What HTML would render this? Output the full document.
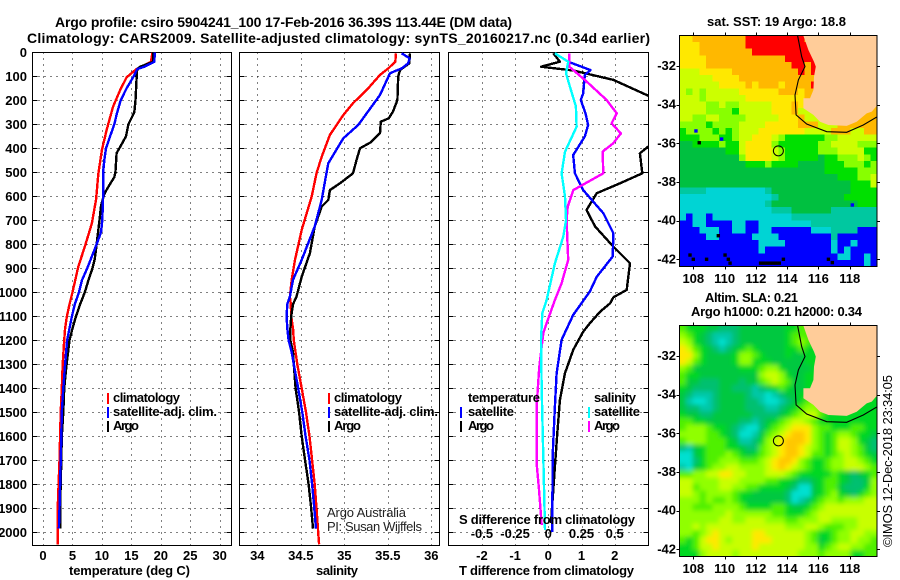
<!DOCTYPE html>
<html>
<head>
<meta charset="utf-8">
<title>Argo profile</title>
<style>
html,body{margin:0;padding:0;background:#fff;}
svg{display:block;}
text{font-family:"Liberation Sans",sans-serif;fill:#000;}
.b{font-weight:bold;font-size:13px;}
.t{font-weight:bold;font-size:14px;}
.n{font-weight:normal;font-size:13px;fill:#222;}
</style>
</head>
<body>
<svg id="chart" xmlns="http://www.w3.org/2000/svg" width="900" height="580" viewBox="0 0 900 580">
<defs>
<clipPath id="clip-p1"><rect x="32.5" y="52.5" width="199" height="493"/></clipPath>
<clipPath id="clip-p2"><rect x="239.5" y="52.5" width="200" height="493"/></clipPath>
<clipPath id="clip-p3"><rect x="448.5" y="52.5" width="200" height="493"/></clipPath>
<clipPath id="clip-m1"><rect x="679.5" y="35.5" width="197.5" height="231"/></clipPath>
<clipPath id="clip-m2"><rect x="679.5" y="325.5" width="197.5" height="231"/></clipPath>
<filter id="soft" x="-10%" y="-10%" width="120%" height="120%"><feGaussianBlur stdDeviation="2.4"/></filter>
</defs>
<text class="t" x="55" y="27" textLength="457">Argo profile: csiro 5904241_100 17-Feb-2016 36.39S 113.44E (DM data)</text>
<text class="t" x="27" y="43" textLength="623">Climatology: CARS2009. Satellite-adjusted climatology: synTS_20160217.nc (0.34d earlier)</text>
<g id="layer-panels"></g>
<g id="layer-maps"></g>

<text class="b" x="69" y="575" textLength="121">temperature (deg C)</text>
<text class="b" x="316" y="575" textLength="42">salinity</text>
<text class="b" x="459" y="575" textLength="175">T difference from climatology</text>

<g>
<rect x="107" y="393" width="2" height="11" fill="#f00"/>
<text class="b" x="113" y="402" textLength="67">climatology</text>
<rect x="107" y="407" width="2" height="11" fill="#00f"/>
<text class="b" x="113" y="416" textLength="104">satellite-adj. clim.</text>
<rect x="107" y="421" width="2" height="11" fill="#000"/>
<text class="b" x="113" y="430" textLength="26">Argo</text>
</g>
<g>
<rect x="328" y="393" width="2" height="11" fill="#f00"/>
<text class="b" x="334" y="402" textLength="68">climatology</text>
<rect x="328" y="407" width="2" height="11" fill="#00f"/>
<text class="b" x="334" y="416" textLength="104">satellite-adj. clim.</text>
<rect x="328" y="421" width="2" height="11" fill="#000"/>
<text class="b" x="334" y="430" textLength="27">Argo</text>
</g>
<text class="n" x="327" y="517" textLength="79">Argo Australia</text>
<text class="n" x="327" y="531" textLength="95">PI: Susan Wijffels</text>

<g>
<text class="b" x="468" y="402" textLength="72">temperature</text>
<rect x="460" y="407" width="2" height="11" fill="#00f"/>
<text class="b" x="468" y="416" textLength="46">satellite</text>
<rect x="460" y="421" width="2" height="11" fill="#000"/>
<text class="b" x="468" y="430" textLength="26">Argo</text>
<text class="b" x="594" y="402" textLength="42">salinity</text>
<rect x="588" y="407" width="2" height="11" fill="#00ffff"/>
<text class="b" x="594" y="416" textLength="46">satellite</text>
<rect x="588" y="421" width="2" height="11" fill="#ff00ff"/>
<text class="b" x="594" y="430" textLength="26">Argo</text>
</g>
<text class="b" x="459" y="524" textLength="176">S difference from climatology</text>

<text class="b" x="707" y="26" textLength="139">sat. SST: 19 Argo: 18.8</text>
<text class="b" x="705" y="302" textLength="93">Altim. SLA: 0.21</text>
<text class="b" x="691" y="316" textLength="171">Argo h1000: 0.21 h2000: 0.34</text>
<text class="n" transform="translate(892,547) rotate(-90)" textLength="172" style="fill:#000">©IMOS 12-Dec-2018 23:34:05</text>
</svg>

<script>
// ---- axis ticks ----
const depthTicks = [0,100,200,300,400,500,600,700,800,900,1000,1100,1200,1300,1400,1500,1600,1700,1800,1900,2000];
const tempTicks = [0,5,10,15,20,25,30];
const salTicks = [34,34.5,35,35.5,36];
const salTickLabels = ['34','34.5','35','35.5','36'];
const diffTicks = [-2,-1,0,1,2];
const sDiffTicks = [-0.5,-0.25,0,0.25,0.5];
const sDiffTickLabels = ['-0.5','-0.25','0','0.25','0.5'];
const lonTicks = [108,110,112,114,116,118];
const latTicks = [-32,-34,-36,-38,-40,-42];

// ---- temperature profiles ----
const tempClimDepth = [0,40,69,104,157,226,324,407,504,615,712,810,893,1000,1050,1100,1150,1200,1300,1400,1500,1600,1700,1800,1900,2000,2050];
const tempClimValues = [18.6,18.3,15.9,14.2,13.1,11.9,10.8,10,9.4,9,8.3,7.1,6,5,4.5,4.05,3.75,3.6,3.35,3.2,3,2.9,2.8,2.65,2.5,2.5,2.5];
const tempSatDepth = [0,40,60,70,100,150,200,250,300,350,400,450,500,600,700,750,800,850,900,950,1000,1050,1100,1150,1200,1300,1400,1500,1600,1700,1800,1900,1985];
const tempSatValues = [19,18.9,17.2,16,15.4,14.2,13.2,12.6,12.1,11.4,10.7,10.4,10.2,10.2,10.07,9.85,9.1,8.3,7.5,6.6,6.1,5.4,4.9,4.5,4.1,3.75,3.45,3.2,3.1,3,2.9,2.8,2.7];
const tempArgoDepth = [0,40,50,60,70,100,200,250,300,350,390,420,500,520,560,590,640,700,800,860,900,950,1000,1050,1100,1150,1200,1300,1400,1500,1600,1700,1800,1900,1985];
const tempArgoValues = [18.7,18.7,17.6,16.5,16,15.9,15.7,15.5,14.5,14.1,13.2,12.5,12.3,12.1,11.1,10.4,9.85,9.6,9.1,8.8,8.4,7.7,7.1,6.3,5.6,5,4.5,4,3.6,3.45,3.2,3.1,3,2.9,2.9];

// ---- salinity profiles ----
const salClimDepth = [4,39,67,94,157,212,261,344,435,504,601,740,865,948,1018,1050,1100,1150,1200,1300,1400,1500,1600,1700,1800,1900,2000,2050];
const salClimValues = [35.594,35.586,35.506,35.41,35.257,35.1,34.99,34.835,34.74,34.68,34.625,34.51,34.433,34.395,34.375,34.385,34.39,34.41,34.42,34.46,34.51,34.56,34.6,34.63,34.66,34.68,34.7,34.71];
const salSatDepth = [4,25,46,67,87,178,303,358,462,532,615,726,865,948,1018,1050,1100,1150,1200,1250,1300,1400,1500,1600,1700,1800,1900,1985];
const salSatValues = [35.66,35.75,35.735,35.66,35.525,35.41,35.16,34.99,34.816,34.78,34.74,34.66,34.51,34.41,34.375,34.345,34.337,34.345,34.36,34.395,34.42,34.47,34.517,34.555,34.6,34.63,34.655,34.675];
const salArgoDepth = [4,46,74,101,199,247,275,289,337,376,400,449,504,546,574,615,643,726,837,935,1018,1050,1100,1150,1200,1250,1300,1400,1500,1600,1700,1800,1900,1985];
const salArgoValues = [35.755,35.747,35.64,35.62,35.61,35.56,35.51,35.42,35.41,35.3,35.18,35.14,35.1,34.95,34.835,34.816,34.74,34.66,34.605,34.51,34.45,34.41,34.39,34.38,34.38,34.41,34.42,34.44,34.48,34.51,34.55,34.59,34.62,34.64];

// ---- differences from climatology ----
const dtArgoDepth = [4,39,60,76,115,181,250,300,350,393,421,504,546,587,657,726,810,879,990,1021,1046,1081,1129,1164,1240,1338,1449,1587,1726,1962];
const dtArgoValues = [0.15,0.35,-0.22,0.75,1.96,3.01,3.9,3.8,3.5,3.01,2.76,2.83,2.16,1.46,1.15,1.41,1.96,2.46,2.36,1.96,1.86,1.56,1.25,1.05,0.75,0.5,0.35,0.27,0.2,0.08];
const dtSatDepth = [4,39,74,94,171,199,254,303,351,428,504,574,671,754,851,935,997,1094,1198,1338,1476,1685,1999];
const dtSatValues = [0.2,0.6,1.27,1.1,1.05,0.98,1.12,1.2,1.1,0.75,0.8,1.05,1.66,1.96,1.94,1.46,1.25,0.75,0.4,0.25,0.2,0.13,0.12];
const dsSatDepth = [4,39,87,143,226,310,414,504,601,699,768,879,1032,1087,1198,1407,1685,1990];
const dsSatValues = [0.05,0.15,0.133,0.163,0.208,0.213,0.126,0.1,0.126,0.133,0.113,0.05,-0.013,-0.045,-0.055,-0.05,-0.038,-0.025];
const dsArgoDepth = [4,60,122,199,254,296,338,379,414,504,574,643,699,865,962,1032,1129,1171,1310,1476,1712,1822,1969];
const dsArgoValues = [0.158,0.158,0.289,0.44,0.515,0.477,0.547,0.489,0.409,0.414,0.188,0.146,0.138,0.15,0.1,0.05,-0.013,-0.038,-0.068,-0.088,-0.088,-0.07,-0.05];

// ---- float position ----
const argoLon = [113.44];
const argoLat = [-36.39];

// ---- coast and shelf contour (degrees) ----
const landLon = [115.04,115.36,115.72,115.83,115.72,115.68,115.46,115.04,115.04,115.68,116.10,116.64,117.81,118.45,119.09,119.41,119.77,119.77];
const landLat = [-30.43,-31.17,-31.78,-32.03,-32.55,-33.24,-33.67,-33.67,-34.19,-34.53,-34.88,-35.05,-35.10,-34.88,-34.45,-34.36,-34.02,-30.43];
const contourLon = [114.67,114.93,115.14,114.72,114.50,114.57,115.25,116.53,117.81,118.87,119.77];
const contourLat = [-30.43,-31.52,-32.03,-32.72,-33.50,-34.53,-35.0,-35.40,-35.43,-35.05,-34.62];

// ---- SST classes, one string per row, north to south ----
const sstGrid = [
"YYOOOOOOOORRRRRRRRROOOOOOOOOOO",
"YYYOOOOOOORRRRRRRRRROOOOOOOOOO",
"YYYOOOOOOOORRRRRRRRROOOOOOOOOO",
"YYYYOOOOOOOOOOOORRRRROOOOOOOOO",
"YYYYOOOOOOOOOOOOORRORRROOOOOOO",
"LLLYYYYYOOOOOOOOOOROROOOOOOOOO",
"LLLLLYYYYOOOOOOOOOOOOOOOOOOOOO",
"LLLLLLYYYYOYOOOYOOOORROOOOOOOO",
"LGLGLLLLLYYYYYYOOOYOOOOOOOOOOO",
"LLLGLLLLLLYYYYYYYYYOOOOOOOOOOO",
"LLLLGGLGGLLLLLYYYOYLLOOOOOOOOO",
"LLLLGGGGgLLLLLYYYOLLLOOOOOOOOO",
"LLGGLLGGGGLLLLLYYYOLLLYYOOOOOO",
"GGGGgGGGGLLLLYYYYYOOOLLLOOOOOO",
"gGGGGgGgGLLLYYYYYYYLLLLOOOLLOO",
"gggGGGggGLLYYYLGggggggGGLLLLLL",
"DDggggGggLYYYYGggggggGGLLLLGGG",
"DDDDDDDggLYYYYLGgggggGGGLLLLgg",
"DDDDDDDDDGYYYYLGgggggDggGGGLGg",
"DDDDDDDDDDgggGggggDDDDgggGGGgG",
"DDDDDDDDDDDDDDDDDDDDDDgggggGGG",
"DDDDDDDDDDDDDDDDDDDDDDDDgggGGL",
"DDDDDDDDDDDDDDDDDDDDDDDDDDgggL",
"TTTTCCCCCCCCCTDDDDDDDDDDDDgggg",
"CCCCCCCCCCCCCCTDDDDDDDDDDggggg",
"CCCCCCCCCCCCCTDDDDDDDDDDDDDggg",
"CCCCCCCCCCCCCCTTTDDDDDDTTTTTTT",
"CBCCBCCCCCCCCCCCCTTTTTTTTTTTTT",
"BBCCBBBBCCBBCCCCCCCCTTTTTTTTTT",
"BBBCCCBBCCBBCCBBBBBBCCCTTTTBBB",
"BBBBCCBBBBBCCCCBBBBBBBBTBBBBBB",
"BBBBBBBBBBBBCCCCBBBBBBBCBBCBBB",
"BBBBBBBBBBBBCBBBBBBBBBBCBCBBBB",
"BBBBBBBBBBBBBBBBBBBBBBBBCCBBCB",
"BBBBBBBBBBBBBBBBBBBBBBBBBBBBCB"
];
const spotLon = [108.17,109.81,118.17,108.38,107.79,108,108.85,110.03,110.24,110.35,109.6,113.76,116.64,116.89,112.3,112.5,112.7,112.9,113.1,113.3,113.5];
const spotLat = [-35.36,-35.78,-39.19,-35.97,-41.78,-42,-42,-41.78,-42,-42.2,-40.78,-42,-42,-42.17,-42.2,-42.2,-42.2,-42.2,-42.2,-42.2,-42.2];
const spotClass = ['B','B','B','k','k','k','k','k','k','k','k','k','k','k','k','k','k','k','k','k','k'];

// ---- altimetry SLA levels (0 low to 9 high), one string per row ----
const slaGrid = [
"544433222333333344554444444444",
"654321112333333345554444444444",
"764321012333333345654444444444",
"875432123454333344544444444444",
"886433334665433343344444444444",
"875433334664443333344444444444",
"653333333444566433334444444444",
"544333333333677643344444444444",
"533222333233567653344444444444",
"432222332221234543344444444444",
"321112333321101233445444444444",
"310012333322100123456544444444",
"322112333322211234566544444444",
"433223333332222345677544444444",
"554433333221234567765444444444",
"566654432100245678886554445544",
"666655432001356789986545665443",
"566655543112467899986545776432",
"213455544322567899876545776532",
"003455565434567899875545676543",
"002455666555678998654456677654",
"103456677666678987654456677765",
"556677887766677765444445432345",
"776666777666655443223455432236",
"775666776655444432003455322246",
"776566665443333320003456432456",
"666565565433333320124566566677",
"665556666544445543345677777777",
"666666676666665544456777777777",
"666666776677766655666776666777",
"667677777777777766677655566777",
"665678777778877777765445667766",
"545788767778887777765345667665",
"445778777778777777766456776655",
"444677776777777777666566664455"
];

// ---- rendering ----
const NS = 'http://www.w3.org/2000/svg';
const panelsLayer = document.getElementById('layer-panels');
const mapsLayer = document.getElementById('layer-maps');

function make(tag, parent, props) {
  const el = document.createElementNS(NS, tag);
  for (const k in props) el.setAttribute(k, props[k]);
  parent.appendChild(el);
  return el;
}
const depthY = d => 52.3 + 0.24 * d;
const tempX = v => 43 + 5.89 * v;
const salX = v => 257.3 + 87 * (v - 34);
const diffX = v => 548.3 + 33.2 * v;
const sDiffX = v => 548.3 + 132.8 * v;
const lonX = v => 693.3 + 15.64 * (v - 108);
const latY = (v, top) => top + 30.5 + 19.33 * (-32 - v);

const panels = [
  {key:'temperature', x0:32.5, x1:231.5, ticks:tempTicks, labels:tempTicks.map(String), fx:tempX, clip:'clip-p1', depthLabels:true},
  {key:'salinity', x0:239.5, x1:439.5, ticks:salTicks, labels:salTickLabels, fx:salX, clip:'clip-p2', depthLabels:false},
  {key:'difference', x0:448.5, x1:648.5, ticks:diffTicks, labels:diffTicks.map(String), fx:diffX, clip:'clip-p3', depthLabels:false}
];
const top0 = 52.5, bot0 = 545.5;

panels.forEach(p => {
  p.ticks.forEach((t, i) => {
    const gx = Math.round(p.fx(t)) + 0.5;
    const line = make('line', panelsLayer, {x1:gx, x2:gx, y1:top0, y2:bot0, stroke:'#000', 'stroke-width':1, 'stroke-dasharray':'1 5', 'shape-rendering':'crispEdges'});
    
    
    const lab = make('text', panelsLayer, {x:p.fx(t), y:560, 'text-anchor':'middle', class:'b'});
    lab.textContent = p.labels[i];
    
    
  });
  depthTicks.forEach(d => {
    const gy = Math.round(depthY(d)) + 0.5;
    if (d > 0) {
      const line = make('line', panelsLayer, {x1:p.x0, x2:p.x1, y1:gy, y2:gy, stroke:'#000', 'stroke-width':1, 'stroke-dasharray':'1 5', 'shape-rendering':'crispEdges'});
      
      
      const tick = make('path', panelsLayer, {d:'M'+p.x0+' '+gy+'h5M'+p.x1+' '+gy+'h-5', stroke:'#000', fill:'none', 'shape-rendering':'crispEdges'});
      
      
    }
    if (p.depthLabels) {
      const lab = make('text', panelsLayer, {x:27, y:depthY(d) + 4.5, 'text-anchor':'end', class:'b'});
      lab.textContent = String(d);
      
      
    }
  });
  const frame = make('rect', panelsLayer, {x:p.x0, y:top0, width:p.x1 - p.x0, height:bot0 - top0, fill:'none', stroke:'#000', 'stroke-width':1.2, 'shape-rendering':'crispEdges'});
  
  
});

sDiffTicks.forEach((t, i) => {
  const lab = make('text', panelsLayer, {x:sDiffX(t), y:538, 'text-anchor':'middle', class:'b'});
  lab.textContent = sDiffTickLabels[i];
  
  
});

function series(name, depths, values, fx, color, clip) {
  const pts = depths.map((d, i) => fx(values[i]).toFixed(1) + ',' + depthY(d).toFixed(1)).join(' ');
  const g = make('g', panelsLayer, {'clip-path':'url(#' + clip + ')'});
  
  
  const line = make('polyline', g, {points:pts, fill:'none', stroke:color, 'stroke-width':2.4, 'stroke-linejoin':'round', 'shape-rendering':'crispEdges'});
  
  
}
series('temperature-climatology-line', tempClimDepth, tempClimValues, tempX, '#ff0000', 'clip-p1');
series('temperature-argo-line', tempArgoDepth, tempArgoValues, tempX, '#000000', 'clip-p1');
series('temperature-satellite-line', tempSatDepth, tempSatValues, tempX, '#0000ff', 'clip-p1');
series('salinity-climatology-line', salClimDepth, salClimValues, salX, '#ff0000', 'clip-p2');
series('salinity-argo-line', salArgoDepth, salArgoValues, salX, '#000000', 'clip-p2');
series('salinity-satellite-line', salSatDepth, salSatValues, salX, '#0000ff', 'clip-p2');
series('t-difference-argo-line', dtArgoDepth, dtArgoValues, diffX, '#000000', 'clip-p3');
series('t-difference-satellite-line', dtSatDepth, dtSatValues, diffX, '#0000ff', 'clip-p3');
series('s-difference-argo-line', dsArgoDepth, dsArgoValues, sDiffX, '#ff00ff', 'clip-p3');
series('s-difference-satellite-line', dsSatDepth, dsSatValues, sDiffX, '#00ffff', 'clip-p3');

// maps
const sstColors = {R:'#ff0000',O:'#ffb800',Y:'#ffe800',L:'#ccff00',G:'#88ff00',g:'#00e000',D:'#00c040',T:'#00c8a0',C:'#00d4d4',B:'#0000ff',k:'#000000'};
const slaColors = ['#00e0d0','#00c8a8','#00c070','#00c840','#00d820','#50f000','#90ff00','#c8ff00','#ffe800','#ffc800'];
const mapX0 = 679.5, mapX1 = 877, cellW = 197.5 / 30, cellH = 6.6;

function drawGrid(parent, grid, colorOf, top, bleed) {
  grid.forEach((row, r) => {
    for (let c = 0; c < 30; c++) {
      const ch = row[c] || row[row.length - 1];
      let x = mapX0 + c * cellW, y = top + r * cellH, w = cellW + 0.5, h = cellH + 0.5;
      if (bleed) {
        if (c === 0) { x -= 20; w += 20; }
        if (c === 29) { w += 20; }
        if (r === 0) { y -= 20; h += 20; }
        if (r === grid.length - 1) { h += 20; }
      }
      const cell = make('rect', parent, {x:x.toFixed(2), y:y.toFixed(2), width:w.toFixed(2), height:h.toFixed(2), fill:colorOf(ch), 'shape-rendering':'crispEdges'});
      
      
    }
  });
}

function drawMap(key, top, clip) {
  const group = make('g', mapsLayer, {});
  
  
  const clipped = make('g', group, {'clip-path':'url(#' + clip + ')'});
  
  
  if (key === 'sst') {
    drawGrid(clipped, sstGrid, ch => sstColors[ch], top, false);
    spotLon.forEach((lon, i) => {
      const spot = make('rect', clipped, {x:lonX(lon) - 1.7, y:latY(spotLat[i], top) - 1.7, width:3.4, height:3.4, fill:sstColors[spotClass[i]]});
      
      
    });
  } else {
    const soft = make('g', clipped, {filter:'url(#soft)'});
    
    
    drawGrid(soft, slaGrid, ch => slaColors[+ch], top, true);
  }
  const landPts = landLon.map((lon, i) => lonX(lon).toFixed(1) + ',' + latY(landLat[i], top).toFixed(1)).join(' ');
  const land = make('polygon', clipped, {points:landPts, fill:'#ffcc99'});
  
  
  const contourPts = contourLon.map((lon, i) => lonX(lon).toFixed(1) + ',' + latY(contourLat[i], top).toFixed(1)).join(' ');
  const contour = make('polyline', clipped, {points:contourPts, fill:'none', stroke:'#000', 'stroke-width':1.1});
  
  
  const marker = make('circle', clipped, {cx:lonX(argoLon[0]), cy:latY(argoLat[0], top), r:5, fill:'none', stroke:'#000', 'stroke-width':1});
  
  

  const bottom = top + 231;
  const frame = make('rect', group, {x:mapX0, y:top, width:mapX1 - mapX0, height:231, fill:'none', stroke:'#000', 'stroke-width':1.2, 'shape-rendering':'crispEdges'});
  
  
  lonTicks.forEach(lon => {
    const x = Math.round(lonX(lon)) + 0.5;
    const tick = make('path', group, {d:'M' + x + ' ' + (top - 3) + 'v3M' + x + ' ' + bottom + 'v3', stroke:'#000', fill:'none', 'shape-rendering':'crispEdges'});
    
    
    const lab = make('text', group, {x:lonX(lon), y:bottom + 16.6, 'text-anchor':'middle', class:'b'});
    lab.textContent = String(lon);
    
    
  });
  latTicks.forEach(lat => {
    const y = Math.round(latY(lat, top)) + 0.5;
    const tick = make('path', group, {d:'M' + (mapX0 - 3) + ' ' + y + 'h3M' + mapX1 + ' ' + y + 'h3', stroke:'#000', fill:'none', 'shape-rendering':'crispEdges'});
    
    
    const lab = make('text', group, {x:676, y:latY(lat, top) + 4, 'text-anchor':'end', class:'b'});
    lab.textContent = String(lat);
    
    
  });
}
drawMap('sst', 35.5, 'clip-m1');
drawMap('sla', 325.5, 'clip-m2');
</script>
</body>
</html>
